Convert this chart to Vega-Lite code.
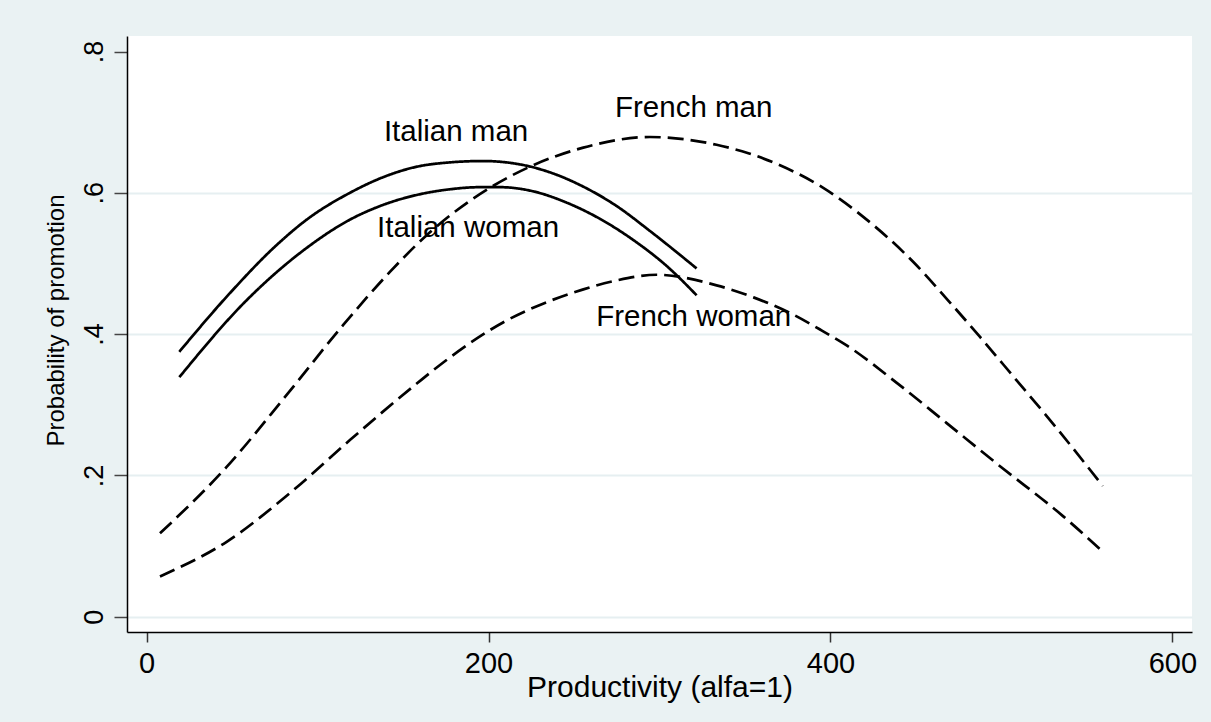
{
  "$schema": "https://vega.github.io/schema/vega-lite/v6.json",
  "width": 1065,
  "height": 596,
  "autosize": {"type": "none"},
  "padding": {"left": 127, "top": 36, "right": 19, "bottom": 90},
  "background": "#EAF2F3",
  "config": {"view": {"fill": "white", "stroke": null}, "font": "Liberation Sans"},
  "datasets": {
    "curves": [
      {"group": "Italian man", "country": "Italian", "productivity": 19.1, "probability": 0.375},
      {"group": "Italian man", "country": "Italian", "productivity": 48.7, "probability": 0.458},
      {"group": "Italian man", "country": "Italian", "productivity": 76, "probability": 0.526},
      {"group": "Italian man", "country": "Italian", "productivity": 93.6, "probability": 0.562},
      {"group": "Italian man", "country": "Italian", "productivity": 118.9, "probability": 0.600},
      {"group": "Italian man", "country": "Italian", "productivity": 138.2, "probability": 0.622},
      {"group": "Italian man", "country": "Italian", "productivity": 158.1, "probability": 0.637},
      {"group": "Italian man", "country": "Italian", "productivity": 177, "probability": 0.643},
      {"group": "Italian man", "country": "Italian", "productivity": 196.7, "probability": 0.645},
      {"group": "Italian man", "country": "Italian", "productivity": 216.6, "probability": 0.641},
      {"group": "Italian man", "country": "Italian", "productivity": 235.9, "probability": 0.629},
      {"group": "Italian man", "country": "Italian", "productivity": 255.2, "probability": 0.609},
      {"group": "Italian man", "country": "Italian", "productivity": 275.1, "probability": 0.581},
      {"group": "Italian man", "country": "Italian", "productivity": 294.4, "probability": 0.546},
      {"group": "Italian man", "country": "Italian", "productivity": 321.7, "probability": 0.493},
      {"group": "Italian woman", "country": "Italian", "productivity": 19.1, "probability": 0.339},
      {"group": "Italian woman", "country": "Italian", "productivity": 58.5, "probability": 0.448},
      {"group": "Italian woman", "country": "Italian", "productivity": 93.6, "probability": 0.522},
      {"group": "Italian woman", "country": "Italian", "productivity": 118.9, "probability": 0.562},
      {"group": "Italian woman", "country": "Italian", "productivity": 138.4, "probability": 0.583},
      {"group": "Italian woman", "country": "Italian", "productivity": 158, "probability": 0.597},
      {"group": "Italian woman", "country": "Italian", "productivity": 177.4, "probability": 0.605},
      {"group": "Italian woman", "country": "Italian", "productivity": 195, "probability": 0.608},
      {"group": "Italian woman", "country": "Italian", "productivity": 206.7, "probability": 0.608},
      {"group": "Italian woman", "country": "Italian", "productivity": 226.3, "probability": 0.602},
      {"group": "Italian woman", "country": "Italian", "productivity": 245.8, "probability": 0.586},
      {"group": "Italian woman", "country": "Italian", "productivity": 265.3, "probability": 0.563},
      {"group": "Italian woman", "country": "Italian", "productivity": 284.8, "probability": 0.533},
      {"group": "Italian woman", "country": "Italian", "productivity": 304.4, "probability": 0.496},
      {"group": "Italian woman", "country": "Italian", "productivity": 321.7, "probability": 0.455},
      {"group": "French man", "country": "French", "productivity": 7.8, "probability": 0.118},
      {"group": "French man", "country": "French", "productivity": 46.8, "probability": 0.212},
      {"group": "French man", "country": "French", "productivity": 81.9, "probability": 0.314},
      {"group": "French man", "country": "French", "productivity": 115, "probability": 0.413},
      {"group": "French man", "country": "French", "productivity": 142.3, "probability": 0.488},
      {"group": "French man", "country": "French", "productivity": 163.8, "probability": 0.540},
      {"group": "French man", "country": "French", "productivity": 202.8, "probability": 0.610},
      {"group": "French man", "country": "French", "productivity": 224.2, "probability": 0.637},
      {"group": "French man", "country": "French", "productivity": 255.4, "probability": 0.664},
      {"group": "French man", "country": "French", "productivity": 294.4, "probability": 0.679},
      {"group": "French man", "country": "French", "productivity": 333.4, "probability": 0.668},
      {"group": "French man", "country": "French", "productivity": 352, "probability": 0.656},
      {"group": "French man", "country": "French", "productivity": 370.5, "probability": 0.639},
      {"group": "French man", "country": "French", "productivity": 395.8, "probability": 0.607},
      {"group": "French man", "country": "French", "productivity": 419.2, "probability": 0.566},
      {"group": "French man", "country": "French", "productivity": 448.5, "probability": 0.502},
      {"group": "French man", "country": "French", "productivity": 468, "probability": 0.450},
      {"group": "French man", "country": "French", "productivity": 487.5, "probability": 0.396},
      {"group": "French man", "country": "French", "productivity": 507, "probability": 0.340},
      {"group": "French man", "country": "French", "productivity": 532.3, "probability": 0.267},
      {"group": "French man", "country": "French", "productivity": 559.3, "probability": 0.185},
      {"group": "French woman", "country": "French", "productivity": 7.8, "probability": 0.057},
      {"group": "French woman", "country": "French", "productivity": 46.8, "probability": 0.106},
      {"group": "French woman", "country": "French", "productivity": 83.8, "probability": 0.175},
      {"group": "French woman", "country": "French", "productivity": 118.9, "probability": 0.250},
      {"group": "French woman", "country": "French", "productivity": 158, "probability": 0.330},
      {"group": "French woman", "country": "French", "productivity": 177.4, "probability": 0.367},
      {"group": "French woman", "country": "French", "productivity": 209.6, "probability": 0.418},
      {"group": "French woman", "country": "French", "productivity": 235.9, "probability": 0.447},
      {"group": "French woman", "country": "French", "productivity": 255, "probability": 0.463},
      {"group": "French woman", "country": "French", "productivity": 275, "probability": 0.476},
      {"group": "French woman", "country": "French", "productivity": 298.4, "probability": 0.484},
      {"group": "French woman", "country": "French", "productivity": 333.4, "probability": 0.469},
      {"group": "French woman", "country": "French", "productivity": 355, "probability": 0.452},
      {"group": "French woman", "country": "French", "productivity": 376.3, "probability": 0.430},
      {"group": "French woman", "country": "French", "productivity": 395, "probability": 0.405},
      {"group": "French woman", "country": "French", "productivity": 409.5, "probability": 0.384},
      {"group": "French woman", "country": "French", "productivity": 438.8, "probability": 0.331},
      {"group": "French woman", "country": "French", "productivity": 468, "probability": 0.274},
      {"group": "French woman", "country": "French", "productivity": 499.2, "probability": 0.213},
      {"group": "French woman", "country": "French", "productivity": 536.2, "probability": 0.142},
      {"group": "French woman", "country": "French", "productivity": 559.3, "probability": 0.092}
    ],
    "labels": [
      {"label": "Italian man", "productivity": 181, "probability": 0.673},
      {"label": "Italian woman", "productivity": 188, "probability": 0.537},
      {"label": "French man", "productivity": 320, "probability": 0.707},
      {"label": "French woman", "productivity": 320, "probability": 0.411}
    ]
  },
  "layer": [
    {
      "data": {"name": "curves"},
      "mark": {"type": "line", "interpolate": "monotone", "strokeWidth": 2.7, "color": "black", "strokeCap": "butt"},
      "encoding": {
        "x": {
          "field": "productivity", "type": "quantitative",
          "scale": {"domain": [-11.5, 611.5], "nice": false, "zero": false},
          "axis": {
            "values": [0, 200, 400, 600], "grid": false,
            "domainColor": "black", "domainWidth": 1.5,
            "tickColor": "#333", "tickSize": 10, "tickWidth": 1.5,
            "labelFontSize": 29, "labelColor": "black", "labelPadding": 7, "labelFont": "Liberation Sans",
            "title": "Productivity (alfa=1)", "titleFontSize": 30, "titleFontWeight": "normal",
            "titleColor": "black", "titleFont": "Liberation Sans", "titleBaseline": "alphabetic", "titleY": 64
          }
        },
        "y": {
          "field": "probability", "type": "quantitative",
          "scale": {"domain": [-0.0217, 0.822], "nice": false, "zero": false},
          "axis": {
            "orient": "left", "values": [0, 0.2, 0.4, 0.6, 0.8], "grid": false,
            "labelExpr": "datum.value == 0 ? '0' : replace(format(datum.value, '.1f'), '0.', '.')",
            "labelAngle": 270, "labelAlign": "center", "labelBaseline": "alphabetic",
            "labelPadding": 12, "labelFontSize": 27, "labelColor": "black", "labelFont": "Liberation Sans",
            "tickSize": 13, "tickWidth": 1.5, "tickColor": "#444",
            "domainColor": "black", "domainWidth": 1.5,
            "title": "Probability of promotion", "titleFontSize": 24, "titleFontWeight": "normal",
            "titleColor": "black", "titleFont": "Liberation Sans", "titleBaseline": "alphabetic",
            "titleAngle": 270, "titleAlign": "center", "titleX": -64, "titleY": 284
          }
        },
        "detail": {"field": "group", "type": "nominal"},
        "strokeDash": {
          "field": "country", "type": "nominal",
          "scale": {"domain": ["Italian", "French"], "range": [[1, 0], [16, 7]]},
          "legend": null
        }
      }
    },
    {
      "data": {"name": "labels"},
      "mark": {"type": "text", "fontSize": 29.5, "align": "center", "baseline": "alphabetic", "color": "black", "font": "Liberation Sans"},
      "encoding": {
        "x": {"field": "productivity", "type": "quantitative", "scale": {"domain": [-11.5, 611.5], "nice": false, "zero": false}},
        "y": {
          "field": "probability", "type": "quantitative",
          "scale": {"domain": [-0.0217, 0.822], "nice": false, "zero": false},
          "axis": {
            "orient": "left", "values": [0, 0.2, 0.4, 0.6], "grid": true,
            "gridColor": "#E6EFF1", "gridWidth": 2, "domain": false, "ticks": false,
            "labels": false, "title": null, "zindex": 0
          }
        },
        "text": {"field": "label", "type": "nominal"}
      }
    }
  ],
  "resolve": {"axis": {"y": "independent"}}
}
